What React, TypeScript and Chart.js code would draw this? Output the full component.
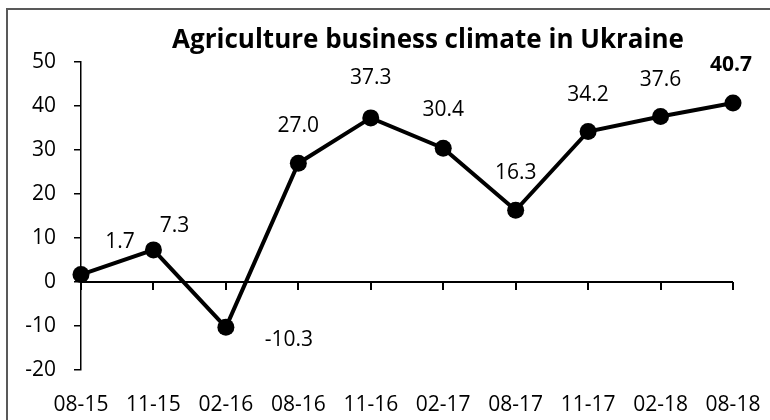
import React, { useEffect, useRef } from 'react';
import { Chart, registerables } from 'chart.js';

Chart.register(...registerables);

const categories = ['08-15', '11-15', '02-16', '08-16', '11-16', '02-17', '08-17', '11-17', '02-18', '08-18'];
const values = [1.7, 7.3, -10.3, 27.0, 37.3, 30.4, 16.3, 34.2, 37.6, 40.7];
const yMin = -20;
const yMax = 50;
const yStep = 10;
const titleText = 'Agriculture business climate in Ukraine';
const boldLabelIndex = 9;

// label placement relative to each point (styling, in px)
const labelOffsets: [number, number][] = [
  [39, -33], [21, -24], [63, 13], [0, -37], [0, -40],
  [0, -38], [0, -37], [0, -37], [0, -37], [-2, -38],
];

const FONT = '"Open Sans", "DejaVu Sans", sans-serif';

const framePlugin = {
  id: 'frame',
  beforeDraw(chart: any) {
    const ctx = chart.ctx;
    ctx.save();
    ctx.fillStyle = '#ffffff';
    ctx.fillRect(0, 0, chart.width, chart.height);
    ctx.strokeStyle = '#595959';
    ctx.lineWidth = 2;
    ctx.beginPath();
    ctx.moveTo(7, chart.height + 5);
    ctx.lineTo(7, 9);
    ctx.lineTo(chart.width + 5, 9);
    ctx.stroke();
    ctx.restore();
  },
  beforeDatasetsDraw(chart: any) {
    const ctx = chart.ctx;
    const xs = chart.scales.x;
    const ys = chart.scales.y;
    const y0 = ys.getPixelForValue(0);
    ctx.save();
    ctx.strokeStyle = '#000';
    ctx.lineWidth = 2;
    ctx.beginPath();
    ctx.moveTo(xs.left, y0);
    ctx.lineTo(xs.right, y0);
    for (let i = 0; i < categories.length; i++) {
      const px = Math.round(xs.getPixelForValue(i));
      ctx.moveTo(px, y0);
      ctx.lineTo(px, y0 + 8);
    }
    ctx.stroke();
    ctx.restore();
  },
  afterDatasetsDraw(chart: any) {
    const ctx = chart.ctx;
    const meta = chart.getDatasetMeta(0);
    ctx.save();
    ctx.fillStyle = '#000';
    ctx.textAlign = 'center';
    ctx.textBaseline = 'middle';
    meta.data.forEach((pt: any, i: number) => {
      const [dx, dy] = labelOffsets[i];
      ctx.font = (i === boldLabelIndex ? 'bold ' : '') + '21px ' + FONT;
      ctx.fillText(values[i].toFixed(1), pt.x + dx, pt.y + dy);
    });
    // title
    ctx.font = 'bold 26px ' + FONT;
    ctx.textBaseline = 'alphabetic';
    ctx.fillText(titleText, 428, 48);
    ctx.restore();
  },
};

export default function App() {
  const ref = useRef<HTMLCanvasElement>(null);
  useEffect(() => {
    if (!ref.current) return;
    const chart = new Chart(ref.current, {
      type: 'line',
      data: {
        labels: categories,
        datasets: [
          {
            data: values,
            borderColor: '#000',
            backgroundColor: '#000',
            borderWidth: 4,
            pointRadius: 8.5,
            pointBorderWidth: 0,
            pointBackgroundColor: '#000',
            tension: 0,
            clip: false as any,
          },
        ],
      },
      options: {
        animation: false,
        responsive: false,
        maintainAspectRatio: false,
        layout: { padding: { top: 62, right: 37, left: 0, bottom: 0 } },
        plugins: {
          legend: { display: false },
          title: { display: false },
          tooltip: { enabled: false },
        },
        scales: {
          x: {
            type: 'category',
            offset: false,
            grid: { display: false, drawTicks: false },
            border: { display: false },
            ticks: {
              color: '#000',
              font: { family: FONT, size: 21 },
              padding: 22,
              maxRotation: 0,
              autoSkip: false,
            },
            afterFit(scale: any) {
              scale.height = 50;
              scale.paddingLeft = 0;
              scale.paddingRight = 0;
            },
          },
          y: {
            min: yMin,
            max: yMax,
            grid: { drawOnChartArea: false, drawTicks: true, tickLength: 7, color: '#000', lineWidth: 1.5 },
            border: { display: true, color: '#000', width: 1.5 },
            ticks: {
              stepSize: yStep,
              color: '#000',
              font: { family: FONT, size: 21 },
              padding: 18,
            },
            afterFit(scale: any) {
              scale.width = 81;
              scale.paddingTop = 0;
              scale.paddingBottom = 0;
            },
          },
        },
      },
      plugins: [framePlugin],
    });
    return () => chart.destroy();
  }, []);
  return (
    <canvas
      ref={ref}
      width={770}
      height={420}
      style={{ position: 'fixed', left: 0, top: 0, width: 770, height: 420 }}
    />
  );
}
